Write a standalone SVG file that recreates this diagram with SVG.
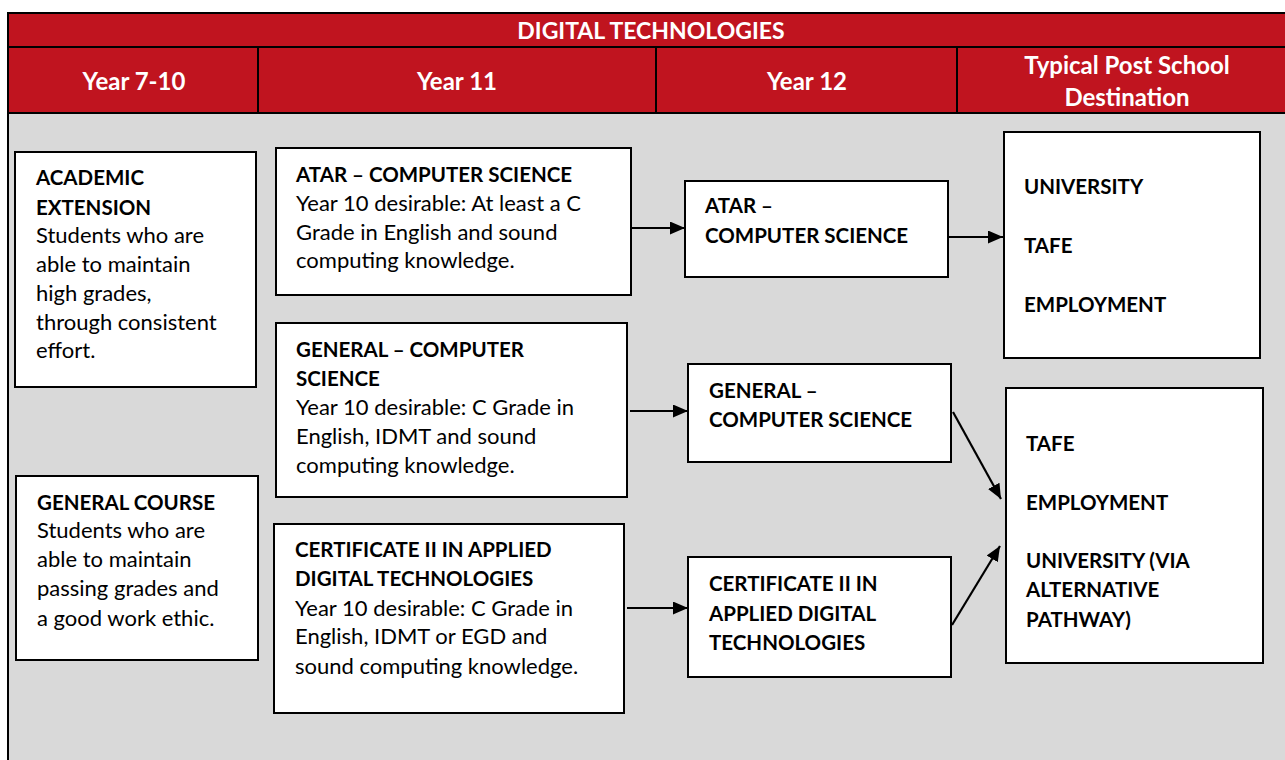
<svg xmlns="http://www.w3.org/2000/svg" width="1285" height="760" viewBox="0 0 1285 760">
<defs>
<style>
.hdr{fill:#C0141F;stroke:#000;stroke-width:2}
.ht{font-family:Lato,"Liberation Sans",sans-serif;font-weight:bold;font-size:24px;fill:#fff;text-anchor:middle}
.box{fill:#fff;stroke:#000;stroke-width:2}
.t{font-family:Lato,"Liberation Sans",sans-serif;font-size:22px;fill:#000}
.b{font-weight:bold;font-size:20.5px}
.c{stroke:#000;stroke-width:2.2;fill:none}
</style>
<marker id="ah" viewBox="0 0 15 13" refX="15" refY="6.5" markerWidth="15" markerHeight="13" markerUnits="userSpaceOnUse" orient="auto">
<path d="M0,0 L15,6.5 L0,13 Z" fill="#000"/>
</marker>
</defs>
<rect x="0" y="0" width="1285" height="760" fill="#fff"/>
<g id="frame">
<rect x="8" y="113" width="1286" height="660" fill="#D9D9D9" stroke="#000" stroke-width="2"/>
<rect class="hdr" x="8" y="13" width="1286" height="34"/>
<rect class="hdr" x="8" y="47" width="1286" height="66"/>
<line x1="258" y1="47" x2="258" y2="113" stroke="#000" stroke-width="2"/>
<line x1="656" y1="47" x2="656" y2="113" stroke="#000" stroke-width="2"/>
<line x1="957" y1="47" x2="957" y2="113" stroke="#000" stroke-width="2"/>
<text class="ht" x="651" y="39" style="font-size:23px">DIGITAL TECHNOLOGIES</text>
<text class="ht" x="134" y="90">Year 7-10</text>
<text class="ht" x="457" y="90">Year 11</text>
<text class="ht" x="807" y="90">Year 12</text>
<text class="ht" x="1127" y="74">Typical Post School</text>
<text class="ht" x="1127" y="106">Destination</text>
</g>
<g id="connectors">
<line class="c" x1="631" y1="228" x2="685" y2="228" marker-end="url(#ah)"/>
<line class="c" x1="948" y1="237" x2="1003" y2="237" marker-end="url(#ah)"/>
<line class="c" x1="630" y1="411" x2="688" y2="411" marker-end="url(#ah)"/>
<line class="c" x1="627" y1="608" x2="688" y2="608" marker-end="url(#ah)"/>
<line class="c" x1="953" y1="412" x2="1001" y2="499" marker-end="url(#ah)"/>
<line class="c" x1="952" y1="625" x2="1000" y2="546" marker-end="url(#ah)"/>
</g>
<g id="academic">
<rect class="box" x="15" y="152" width="241" height="235"/>
<text class="t" x="36"><tspan class="b" x="36" y="185">ACADEMIC</tspan><tspan class="b" x="36" y="215">EXTENSION</tspan><tspan x="36" y="243">Students who are</tspan><tspan x="36" y="272">able to maintain</tspan><tspan x="36" y="301">high grades,</tspan><tspan x="36" y="330">through consistent</tspan><tspan x="36" y="358">effort.</tspan></text>
</g>
<g id="general-course">
<rect class="box" x="16" y="476" width="242" height="184"/>
<text class="t"><tspan class="b" x="37" y="510">GENERAL COURSE</tspan><tspan x="37" y="538">Students who are</tspan><tspan x="37" y="567">able to maintain</tspan><tspan x="37" y="596">passing grades and</tspan><tspan x="37" y="626">a good work ethic.</tspan></text>
</g>
<g id="y11-atar">
<rect class="box" x="276" y="148" width="355" height="147"/>
<text class="t"><tspan class="b" x="296" y="182">ATAR – COMPUTER SCIENCE</tspan><tspan x="296" y="211">Year 10 desirable: At least a C</tspan><tspan x="296" y="240">Grade in English and sound</tspan><tspan x="296" y="268">computing knowledge.</tspan></text>
</g>
<g id="y11-general">
<rect class="box" x="276" y="323" width="351" height="174"/>
<text class="t"><tspan class="b" x="296" y="357">GENERAL – COMPUTER</tspan><tspan class="b" x="296" y="386">SCIENCE</tspan><tspan x="296" y="415">Year 10 desirable: C Grade in</tspan><tspan x="296" y="444">English, IDMT and sound</tspan><tspan x="296" y="473">computing knowledge.</tspan></text>
</g>
<g id="y11-cert">
<rect class="box" x="274" y="524" width="350" height="189"/>
<text class="t"><tspan class="b" x="295" y="557">CERTIFICATE II IN APPLIED</tspan><tspan class="b" x="295" y="586">DIGITAL TECHNOLOGIES</tspan><tspan x="295" y="616">Year 10 desirable: C Grade in</tspan><tspan x="295" y="644">English, IDMT or EGD and</tspan><tspan x="295" y="674">sound computing knowledge.</tspan></text>
</g>
<g id="y12-atar">
<rect class="box" x="685" y="181" width="263" height="96"/>
<text class="t b"><tspan x="705" y="213">ATAR –</tspan><tspan x="705" y="243">COMPUTER SCIENCE</tspan></text>
</g>
<g id="y12-general">
<rect class="box" x="688" y="364" width="263" height="98"/>
<text class="t b"><tspan x="709" y="398">GENERAL –</tspan><tspan x="709" y="427">COMPUTER SCIENCE</tspan></text>
</g>
<g id="y12-cert">
<rect class="box" x="688" y="557" width="263" height="120"/>
<text class="t b"><tspan x="709" y="591">CERTIFICATE II IN</tspan><tspan x="709" y="621">APPLIED DIGITAL</tspan><tspan x="709" y="650">TECHNOLOGIES</tspan></text>
</g>
<g id="dest-1">
<rect class="box" x="1004" y="132" width="256" height="226"/>
<text class="t b"><tspan x="1024" y="194">UNIVERSITY</tspan><tspan x="1024" y="253">TAFE</tspan><tspan x="1024" y="312">EMPLOYMENT</tspan></text>
</g>
<g id="dest-2">
<rect class="box" x="1006" y="388" width="257" height="275"/>
<text class="t b"><tspan x="1026" y="451">TAFE</tspan><tspan x="1026" y="510">EMPLOYMENT</tspan><tspan x="1026" y="568">UNIVERSITY (VIA</tspan><tspan x="1026" y="597">ALTERNATIVE</tspan><tspan x="1026" y="627">PATHWAY)</tspan></text>
</g>
</svg>
